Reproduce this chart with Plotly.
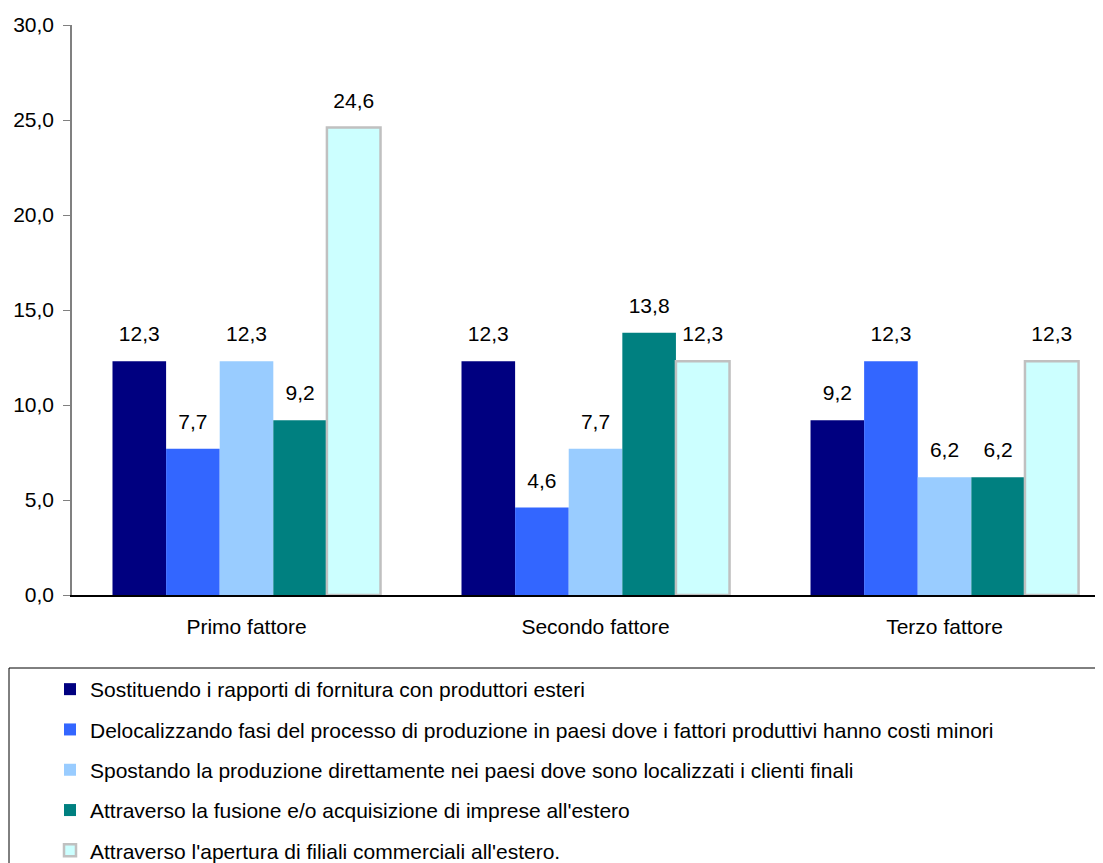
import plotly.graph_objects as go

categories = ["Primo fattore", "Secondo fattore", "Terzo fattore"]
series_names = [
    "Sostituendo i rapporti di fornitura con produttori esteri",
    "Delocalizzando fasi del processo di produzione in paesi dove i fattori produttivi hanno costi minori",
    "Spostando la produzione direttamente nei paesi dove sono localizzati i clienti finali",
    "Attraverso la fusione e/o acquisizione di imprese all'estero",
    "Attraverso l'apertura di filiali commerciali all'estero.",
]
s1 = [12.3, 12.3, 9.2]
s2 = [7.7, 4.6, 12.3]
s3 = [12.3, 7.7, 6.2]
s4 = [9.2, 13.8, 6.2]
s5 = [24.6, 12.3, 12.3]
series_values = [s1, s2, s3, s4, s5]
colors = ["#000080", "#3366FF", "#99CCFF", "#008080", "#CCFFFF"]
line_colors = [None, None, None, None, "#C0C0C0"]
y_ticks = [0, 5, 10, 15, 20, 25, 30]

FONT = "Liberation Sans, Arial, sans-serif"
FS = 21
BARGAP = 0.232

fig = go.Figure()
for i, (name, vals) in enumerate(zip(series_names, series_values)):
    lc = line_colors[i]
    fig.add_trace(go.Bar(
        name=name,
        x=categories,
        y=vals,
        offsetgroup=str(i),
        marker=dict(color=colors[i],
                    line=dict(color=lc if lc else colors[i], width=2.5 if lc else 0)),
        legendgroup=f"g{i}",
        hoverinfo="skip",
    ))

# value labels, grouped like the bars
for i, (name, vals) in enumerate(zip(series_names, series_values)):
    fig.add_trace(go.Scatter(
        x=categories,
        y=vals,
        mode="markers+text",
        orientation="v",
        offsetgroup=str(i),
        marker=dict(size=22, opacity=0),
        text=[f"{v:.1f}".replace(".", ",") for v in vals],
        textposition="top center",
        textfont=dict(size=FS, color="#000000", family=FONT),
        showlegend=False,
        hoverinfo="skip",
        cliponaxis=False,
    ))

OFF = 8  # page body margin
W, H = 1103, 863
L, T = 72 - OFF, 25 - OFF
R = W - (1103 - OFF)
B = H - (595 - OFF)
pw = W - L - R
ph = H - T - B

def px_x(p):
    return (p - OFF - L) / pw

def px_y(p):
    return (H - B - (p - OFF)) / ph

fig.update_layout(
    width=W, height=H,
    margin=dict(l=L, r=R, t=T, b=B, pad=0, autoexpand=False),
    paper_bgcolor="white",
    plot_bgcolor="white",
    separators=",.",
    barmode="group",
    bargap=BARGAP,
    bargroupgap=0,
    scattermode="group",
    scattergap=BARGAP,
    font=dict(family=FONT, size=FS, color="#000000"),
    showlegend=True,
    legend=dict(
        x=px_x(50), xanchor="left",
        y=px_y(669), yanchor="top",
        orientation="v",
        traceorder="grouped",
        tracegroupgap=10,
        font=dict(size=FS, family=FONT, color="#000000"),
        bgcolor="rgba(0,0,0,0)",
        borderwidth=0,
        itemclick=False,
    ),
    shapes=[dict(
        type="rect", xref="paper", yref="paper",
        x0=px_x(9), x1=px_x(1098), y0=px_y(668), y1=px_y(900),
        line=dict(color="#000000", width=1),
        fillcolor="rgba(0,0,0,0)",
        layer="below",
    )],
    xaxis=dict(
        range=[-0.5, 2.454],
        showgrid=False,
        showline=True, linecolor="#000000", linewidth=1.5,
        ticks="",
        tickfont=dict(size=FS, family=FONT),
        ticklabelstandoff=12,
        zeroline=False,
    ),
    yaxis=dict(
        range=[0, 30],
        tickvals=y_ticks,
        tickformat=".1f",
        showgrid=False,
        showline=True, linecolor="#808080", linewidth=1.5,
        ticks="outside", ticklen=7, tickcolor="#808080", tickwidth=1,
        tickfont=dict(size=FS, family=FONT),
        ticklabelstandoff=5,
        zeroline=False,
    ),
)

fig.write_html("out.html")
